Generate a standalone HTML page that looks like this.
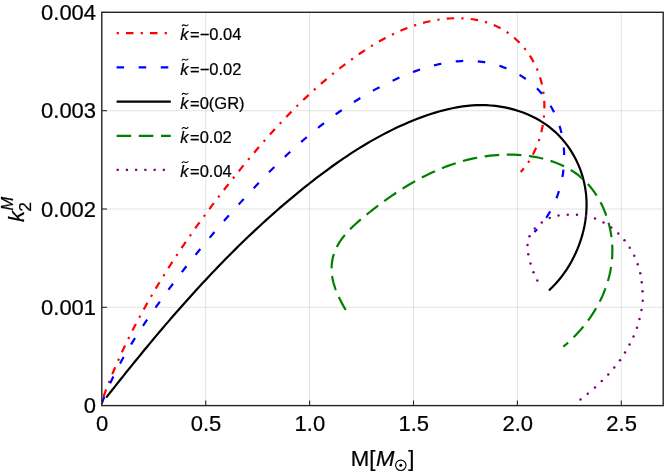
<!DOCTYPE html>
<html><head><meta charset="utf-8"><title>k2M vs M</title>
<style>html,body{margin:0;padding:0;background:#fff;}body{width:664px;height:474px;overflow:hidden;font-family:"Liberation Sans",sans-serif;}svg{display:block;will-change:transform;}text{font-family:"Liberation Sans",sans-serif;fill:#000;stroke:#000;stroke-width:0.22;}</style>
</head><body>
<svg width="664" height="474" viewBox="0 0 664 474">
<rect x="0" y="0" width="664" height="474" fill="#ffffff"/>
<g stroke="#000000" stroke-opacity="0.15" stroke-width="0.75" fill="none">
<line x1="205.70" y1="12.30" x2="205.70" y2="405.60"/>
<line x1="309.60" y1="12.30" x2="309.60" y2="405.60"/>
<line x1="413.50" y1="12.30" x2="413.50" y2="405.60"/>
<line x1="517.40" y1="12.30" x2="517.40" y2="405.60"/>
<line x1="621.30" y1="12.30" x2="621.30" y2="405.60"/>
<line x1="101.80" y1="307.30" x2="663.20" y2="307.30"/>
<line x1="101.80" y1="209.00" x2="663.20" y2="209.00"/>
<line x1="101.80" y1="110.70" x2="663.20" y2="110.70"/>
</g>
<clipPath id="pc"><rect x="101.80" y="12.30" width="561.40" height="393.30"/></clipPath>
<g clip-path="url(#pc)" fill="none" stroke-width="2.2" stroke-linecap="butt" stroke-linejoin="round">
<path d="M100.72 404.58 L102.29 400.12 L103.89 395.67 L105.54 391.24 L107.22 386.82 L108.95 382.41 L110.71 378.02 L112.51 373.64 L114.35 369.28 L116.22 364.92 L118.13 360.59 L120.07 356.26 L122.05 351.95 L124.06 347.65 L126.11 343.37 L128.19 339.10 L130.31 334.84 L132.45 330.60 L134.63 326.37 L136.84 322.15 L139.07 317.95 L141.34 313.76 L143.64 309.58 L145.97 305.42 L148.32 301.27 L150.70 297.13 L153.11 293.01 L155.55 288.90 L158.01 284.80 L160.50 280.72 L163.01 276.65 L165.55 272.60 L168.11 268.55 L170.69 264.53 L173.30 260.51 L175.93 256.51 L178.58 252.52 L181.25 248.55 L183.94 244.59 L186.66 240.64 L189.39 236.70 L192.14 232.78 L194.91 228.87 L197.69 224.98 L200.50 221.10 L203.32 217.23 L206.15 213.38 L209.01 209.54 L211.87 205.71 L214.76 201.90 L217.65 198.10 L220.56 194.31 L223.48 190.54 L226.42 186.78 L229.36 183.03 L232.32 179.29 L235.29 175.57 L238.26 171.87 L241.25 168.18 L244.26 164.50 L247.28 160.84 L250.31 157.19 L253.36 153.57 L256.42 149.96 L259.50 146.36 L262.60 142.79 L265.72 139.24 L268.86 135.70 L272.02 132.19 L275.21 128.70 L278.42 125.23 L281.65 121.78 L284.90 118.36 L288.19 114.96 L291.49 111.58 L294.83 108.23 L298.20 104.91 L301.59 101.61 L305.02 98.34 L308.47 95.09 L311.96 91.88 L315.49 88.69 L319.04 85.53 L322.64 82.40 L326.26 79.31 L329.93 76.24 L333.63 73.21 L337.38 70.21 L341.16 67.24 L344.98 64.31 L348.84 61.41 L352.75 58.56 L356.70 55.75 L360.68 53.00 L364.71 50.31 L368.78 47.69 L372.89 45.14 L377.04 42.67 L381.23 40.28 L385.47 37.98 L389.74 35.78 L394.06 33.68 L398.41 31.69 L402.81 29.80 L407.24 28.04 L411.72 26.41 L416.24 24.90 L420.79 23.53 L425.39 22.30 L430.03 21.22 L434.71 20.30 L439.43 19.53 L444.18 18.93 L448.96 18.51 L453.75 18.27 L458.54 18.22 L463.32 18.36 L468.07 18.72 L472.77 19.28 L477.42 20.08 L482.01 21.10 L486.52 22.36 L490.93 23.87 L495.24 25.63 L499.43 27.66 L503.48 29.94 L507.40 32.48 L511.17 35.25 L514.78 38.24 L518.23 41.44 L521.49 44.84 L524.58 48.42 L527.46 52.18 L530.14 56.10 L532.61 60.17 L534.85 64.38 L536.86 68.71 L538.63 73.15 L540.15 77.70 L541.44 82.32 L542.50 87.02 L543.31 91.78 L543.90 96.58 L544.26 101.42 L544.39 106.27 L544.30 111.13 L543.99 115.98 L543.45 120.80 L542.70 125.60 L541.74 130.34 L540.56 135.02 L539.17 139.62 L537.57 144.13 L535.77 148.54 L533.76 152.83 L531.55 157.00 L529.14 161.02 L526.54 164.88 L523.74 168.57 L520.74 172.08" stroke="#ff0000" stroke-dasharray="7.5 7.15 2.2 7.15" stroke-dashoffset="15.45"/>
<path d="M101.60 403.81 L103.29 399.38 L105.06 394.97 L106.90 390.60 L108.80 386.26 L110.77 381.95 L112.81 377.67 L114.90 373.42 L117.06 369.20 L119.27 365.00 L121.54 360.84 L123.85 356.69 L126.22 352.58 L128.63 348.48 L131.09 344.41 L133.59 340.37 L136.12 336.34 L138.70 332.34 L141.30 328.35 L143.94 324.39 L146.61 320.44 L149.30 316.51 L152.02 312.60 L154.76 308.70 L157.52 304.82 L160.30 300.95 L163.09 297.10 L165.90 293.26 L168.72 289.44 L171.57 285.63 L174.43 281.84 L177.30 278.06 L180.19 274.29 L183.10 270.53 L186.02 266.79 L188.96 263.07 L191.92 259.35 L194.89 255.65 L197.88 251.96 L200.88 248.29 L203.90 244.63 L206.93 240.98 L209.98 237.34 L213.04 233.71 L216.12 230.10 L219.21 226.50 L222.32 222.91 L225.45 219.33 L228.58 215.77 L231.73 212.21 L234.90 208.67 L238.08 205.14 L241.27 201.62 L244.48 198.11 L247.70 194.61 L250.94 191.13 L254.20 187.66 L257.47 184.21 L260.76 180.78 L264.07 177.36 L267.39 173.97 L270.74 170.59 L274.11 167.24 L277.50 163.91 L280.91 160.60 L284.34 157.32 L287.79 154.07 L291.27 150.85 L294.78 147.65 L298.31 144.49 L301.86 141.35 L305.45 138.25 L309.06 135.18 L312.69 132.15 L316.36 129.16 L320.06 126.20 L323.78 123.28 L327.54 120.40 L331.33 117.57 L335.15 114.77 L339.01 112.02 L342.89 109.31 L346.82 106.65 L350.77 104.04 L354.77 101.47 L358.80 98.96 L362.87 96.49 L366.97 94.08 L371.11 91.72 L375.30 89.41 L379.52 87.16 L383.78 84.97 L388.09 82.83 L392.44 80.75 L396.83 78.74 L401.26 76.78 L405.73 74.90 L410.24 73.10 L414.78 71.39 L419.35 69.77 L423.94 68.26 L428.56 66.87 L433.20 65.59 L437.86 64.45 L442.52 63.45 L447.20 62.60 L451.88 61.91 L456.56 61.38 L461.25 61.03 L465.93 60.86 L470.60 60.88 L475.26 61.10 L479.91 61.54 L484.53 62.19 L489.13 63.05 L493.69 64.13 L498.19 65.42 L502.64 66.91 L507.00 68.61 L511.28 70.51 L515.46 72.61 L519.54 74.91 L523.49 77.40 L527.31 80.09 L530.98 82.96 L534.50 86.02 L537.86 89.26 L541.03 92.69 L544.02 96.28 L546.83 100.04 L549.43 103.95 L551.84 108.00 L554.05 112.17 L556.04 116.47 L557.83 120.87 L559.39 125.37 L560.73 129.95 L561.85 134.61 L562.75 139.32 L563.43 144.09 L563.90 148.90 L564.15 153.73 L564.19 158.58 L564.02 163.43 L563.64 168.28 L563.05 173.10 L562.27 177.89 L561.28 182.64 L560.09 187.34 L558.70 191.97 L557.12 196.52 L555.34 200.98 L553.38 205.34 L551.22 209.58 L548.88 213.71 L546.35 217.69 L543.64 221.53 L540.75 225.21 L537.68 228.72 L534.43 232.04" stroke="#0000ff" stroke-dasharray="7.5 14.6" stroke-dashoffset="22.04"/>
<path d="M106.19 397.61 L109.08 393.93 L111.98 390.25 L114.88 386.57 L117.80 382.90 L120.71 379.23 L123.64 375.57 L126.57 371.91 L129.51 368.26 L132.46 364.61 L135.41 360.97 L138.38 357.33 L141.35 353.70 L144.33 350.07 L147.32 346.46 L150.32 342.85 L153.33 339.24 L156.34 335.65 L159.37 332.06 L162.41 328.48 L165.46 324.91 L168.51 321.35 L171.58 317.80 L174.66 314.25 L177.75 310.72 L180.85 307.19 L183.97 303.68 L187.09 300.18 L190.23 296.69 L193.38 293.21 L196.54 289.74 L199.71 286.28 L202.89 282.84 L206.09 279.41 L209.30 275.99 L212.53 272.58 L215.77 269.19 L219.02 265.81 L222.29 262.44 L225.57 259.09 L228.86 255.76 L232.17 252.43 L235.49 249.13 L238.83 245.84 L242.19 242.56 L245.56 239.30 L248.94 236.06 L252.34 232.84 L255.76 229.63 L259.19 226.44 L262.64 223.26 L266.11 220.11 L269.59 216.97 L273.09 213.85 L276.61 210.75 L280.14 207.67 L283.70 204.61 L287.27 201.56 L290.86 198.54 L294.46 195.54 L298.09 192.56 L301.73 189.60 L305.40 186.66 L309.08 183.74 L312.78 180.85 L316.50 177.97 L320.25 175.13 L324.01 172.31 L327.79 169.51 L331.60 166.75 L335.43 164.02 L339.28 161.32 L343.15 158.66 L347.05 156.04 L350.97 153.45 L354.92 150.91 L358.89 148.41 L362.89 145.95 L366.92 143.54 L370.97 141.17 L375.05 138.86 L379.15 136.59 L383.29 134.38 L387.45 132.22 L391.64 130.12 L395.86 128.08 L400.12 126.09 L404.40 124.17 L408.71 122.31 L413.06 120.51 L417.43 118.78 L421.84 117.12 L426.29 115.54 L430.76 114.03 L435.26 112.61 L439.79 111.29 L444.34 110.08 L448.92 108.98 L453.52 108.00 L458.13 107.15 L462.77 106.43 L467.42 105.87 L472.09 105.45 L476.77 105.20 L481.46 105.11 L486.16 105.21 L490.86 105.48 L495.56 105.94 L500.24 106.59 L504.90 107.41 L509.51 108.42 L514.08 109.60 L518.59 110.98 L523.03 112.53 L527.39 114.27 L531.66 116.19 L535.83 118.30 L539.89 120.58 L543.82 123.06 L547.63 125.71 L551.29 128.55 L554.80 131.57 L558.16 134.77 L561.34 138.14 L564.36 141.67 L567.21 145.34 L569.88 149.16 L572.37 153.10 L574.67 157.17 L576.78 161.34 L578.70 165.61 L580.42 169.97 L581.93 174.41 L583.24 178.91 L584.34 183.48 L585.22 188.09 L585.89 192.75 L586.33 197.43 L586.55 202.13 L586.55 206.85 L586.35 211.57 L585.94 216.28 L585.33 220.98 L584.52 225.66 L583.52 230.30 L582.34 234.91 L580.97 239.47 L579.43 243.97 L577.72 248.41 L575.84 252.77 L573.80 257.06 L571.60 261.25 L569.25 265.34 L566.75 269.33 L564.11 273.19 L561.33 276.94 L558.42 280.55 L555.37 284.02 L552.21 287.33 L548.92 290.49" stroke="#000000"/>
<path d="M346.20 310.67 L344.50 307.83 L342.82 304.89 L341.18 301.86 L339.61 298.74 L338.11 295.56 L336.72 292.31 L335.46 289.02 L334.33 285.68 L333.38 282.33 L332.60 278.95 L332.03 275.57 L331.69 272.20 L331.57 268.85 L331.67 265.52 L332.00 262.25 L332.54 259.02 L333.30 255.87 L334.26 252.80 L335.43 249.82 L336.80 246.93 L338.34 244.11 L340.06 241.37 L341.92 238.71 L343.93 236.11 L346.07 233.57 L348.32 231.09 L350.68 228.66 L353.12 226.28 L355.64 223.95 L358.23 221.65 L360.86 219.39 L363.54 217.16 L366.24 214.95 L368.95 212.76 L371.68 210.60 L374.43 208.46 L377.19 206.34 L379.97 204.25 L382.76 202.19 L385.56 200.16 L388.38 198.15 L391.22 196.17 L394.07 194.23 L396.93 192.32 L399.81 190.44 L402.71 188.60 L405.62 186.79 L408.55 185.02 L411.49 183.29 L414.44 181.59 L417.42 179.94 L420.41 178.33 L423.41 176.76 L426.43 175.24 L429.46 173.76 L432.51 172.32 L435.58 170.94 L438.66 169.60 L441.76 168.31 L444.88 167.07 L448.01 165.88 L451.15 164.75 L454.31 163.67 L457.49 162.64 L460.69 161.67 L463.90 160.76 L467.12 159.91 L470.36 159.11 L473.62 158.38 L476.90 157.71 L480.19 157.10 L483.50 156.55 L486.82 156.07 L490.16 155.66 L493.52 155.31 L496.90 155.03 L500.29 154.83 L503.69 154.69 L507.12 154.62 L510.56 154.63 L514.01 154.71 L517.46 154.87 L520.92 155.11 L524.38 155.43 L527.83 155.83 L531.26 156.31 L534.68 156.88 L538.08 157.54 L541.45 158.29 L544.79 159.13 L548.09 160.07 L551.35 161.10 L554.56 162.23 L557.73 163.45 L560.83 164.78 L563.88 166.21 L566.87 167.75 L569.78 169.39 L572.62 171.14 L575.38 173.00 L578.06 174.98 L580.65 177.06 L583.14 179.27 L585.54 181.59 L587.84 184.01 L590.05 186.54 L592.15 189.17 L594.16 191.88 L596.07 194.69 L597.87 197.57 L599.58 200.53 L601.18 203.56 L602.68 206.65 L604.07 209.80 L605.36 213.00 L606.54 216.25 L607.62 219.54 L608.59 222.86 L609.45 226.22 L610.20 229.60 L610.84 233.00 L611.37 236.41 L611.78 239.83 L612.09 243.25 L612.28 246.67 L612.36 250.08 L612.32 253.48 L612.17 256.87 L611.91 260.24 L611.55 263.59 L611.08 266.92 L610.51 270.24 L609.83 273.53 L609.06 276.80 L608.18 280.05 L607.22 283.26 L606.16 286.46 L605.00 289.62 L603.76 292.75 L602.43 295.85 L601.02 298.92 L599.52 301.95 L597.95 304.95 L596.29 307.91 L594.56 310.82 L592.75 313.70 L590.87 316.54 L588.91 319.33 L586.89 322.07 L584.80 324.77 L582.65 327.42 L580.44 330.02 L578.16 332.56 L575.82 335.06 L573.43 337.50 L570.98 339.88 L568.49 342.21 L565.94 344.47 L563.34 346.68" stroke="#008000" stroke-dasharray="14.6 7.6" stroke-dashoffset="21.29"/>
</g>
<g fill="#800080">
<circle cx="537.25" cy="280.50" r="1.25"/>
<circle cx="533.50" cy="272.25" r="1.25"/>
<circle cx="530.50" cy="263.50" r="1.25"/>
<circle cx="528.25" cy="254.25" r="1.25"/>
<circle cx="527.50" cy="245.00" r="1.25"/>
<circle cx="529.50" cy="236.25" r="1.25"/>
<circle cx="534.75" cy="228.50" r="1.25"/>
<circle cx="541.75" cy="222.50" r="1.25"/>
<circle cx="549.75" cy="218.00" r="1.25"/>
<circle cx="558.50" cy="215.50" r="1.25"/>
<circle cx="567.75" cy="214.75" r="1.25"/>
<circle cx="577.00" cy="214.75" r="1.25"/>
<circle cx="586.00" cy="216.00" r="1.25"/>
<circle cx="595.00" cy="218.50" r="1.25"/>
<circle cx="603.50" cy="222.50" r="1.25"/>
<circle cx="611.25" cy="227.50" r="1.25"/>
<circle cx="618.25" cy="233.50" r="1.25"/>
<circle cx="624.50" cy="240.25" r="1.25"/>
<circle cx="629.75" cy="247.75" r="1.25"/>
<circle cx="634.25" cy="255.75" r="1.25"/>
<circle cx="637.75" cy="264.25" r="1.25"/>
<circle cx="640.25" cy="273.25" r="1.25"/>
<circle cx="641.75" cy="282.25" r="1.25"/>
<circle cx="642.50" cy="291.25" r="1.25"/>
<circle cx="642.75" cy="300.75" r="1.25"/>
<circle cx="641.50" cy="310.00" r="1.25"/>
<circle cx="639.50" cy="319.00" r="1.25"/>
<circle cx="637.00" cy="327.75" r="1.25"/>
<circle cx="633.50" cy="336.50" r="1.25"/>
<circle cx="629.50" cy="344.50" r="1.25"/>
<circle cx="625.00" cy="352.50" r="1.25"/>
<circle cx="620.00" cy="360.25" r="1.25"/>
<circle cx="614.25" cy="367.50" r="1.25"/>
<circle cx="608.25" cy="374.50" r="1.25"/>
<circle cx="601.75" cy="381.00" r="1.25"/>
<circle cx="595.00" cy="387.50" r="1.25"/>
<circle cx="587.75" cy="393.75" r="1.25"/>
<circle cx="580.50" cy="399.50" r="1.25"/>
</g>
<g stroke="#242424" stroke-width="1.4" fill="none">
<rect x="101.80" y="12.30" width="561.40" height="393.30"/>
</g>
<g stroke="#2a2a2a" stroke-width="1.1" fill="none">
<line x1="205.70" y1="405.60" x2="205.70" y2="400.40"/>
<line x1="309.60" y1="405.60" x2="309.60" y2="400.40"/>
<line x1="413.50" y1="405.60" x2="413.50" y2="400.40"/>
<line x1="517.40" y1="405.60" x2="517.40" y2="400.40"/>
<line x1="621.30" y1="405.60" x2="621.30" y2="400.40"/>
<line x1="101.80" y1="307.30" x2="107.00" y2="307.30"/>
<line x1="101.80" y1="209.00" x2="107.00" y2="209.00"/>
<line x1="101.80" y1="110.70" x2="107.00" y2="110.70"/>
<line x1="101.80" y1="12.40" x2="107.00" y2="12.40"/>
</g>
<g font-size="22.0">
<text x="102.10" y="430.80" text-anchor="middle">0</text>
<text x="206.00" y="430.80" text-anchor="middle">0.5</text>
<text x="309.90" y="430.80" text-anchor="middle">1.0</text>
<text x="413.80" y="430.80" text-anchor="middle">1.5</text>
<text x="517.70" y="430.80" text-anchor="middle">2.0</text>
<text x="621.60" y="430.80" text-anchor="middle">2.5</text>
<text x="96.10" y="413.30" text-anchor="end">0</text>
<text x="96.10" y="315.00" text-anchor="end">0.001</text>
<text x="96.10" y="216.70" text-anchor="end">0.002</text>
<text x="96.10" y="118.40" text-anchor="end">0.003</text>
<text x="96.10" y="20.10" text-anchor="end">0.004</text>
</g>
<g font-size="22.2">
<text x="350.7" y="465.6">M[<tspan font-style="italic" dx="0.7">M</tspan></text>
<text x="408.2" y="465.6">]</text>
</g>
<circle cx="400.8" cy="465.3" r="5.2" fill="none" stroke="#000" stroke-width="1.15"/>
<circle cx="400.8" cy="465.3" r="1.5" fill="#000"/>
<g transform="translate(24 222) rotate(-90)">
<text x="0" y="0" font-size="22.2" font-style="italic">k</text>
<text x="10.2" y="6.8" font-size="17.4">2</text>
<text x="11.6" y="-10.8" font-size="16.4" font-style="italic">M</text>
</g>
<g fill="none" stroke-width="2.2">
<path d="M116.6 33.1 H170.8" stroke="#ff0000" stroke-dasharray="7.5 7.15 2.2 7.15" stroke-dashoffset="14.6"/>
<path d="M116.6 67.4 H170.8" stroke="#0000ff" stroke-dasharray="7.5 14.6" stroke-dashoffset="0"/>
<path d="M116.6 101.6 H170.8" stroke="#000000"/>
<path d="M116.6 135.8 H170.8" stroke="#008000" stroke-dasharray="14.6 7.6" stroke-dashoffset="0"/>
<path d="M116.6 169.9 H170.8" stroke="#800080" stroke-dasharray="2.2 7.03" stroke-dashoffset="0"/>
</g>
<text x="180.2" y="40.20" font-size="16.5"><tspan font-style="italic">k</tspan><tspan dx="1.6">=−0.04</tspan></text>
<path d="M182.20 25.90 c0.6 -1.2 1.8 -1.3 2.8 -0.6 c1 0.7 2.2 0.6 3 -0.6" fill="none" stroke="#000" stroke-width="1.05" stroke-linecap="round"/>
<text x="180.2" y="74.50" font-size="16.5"><tspan font-style="italic">k</tspan><tspan dx="1.6">=−0.02</tspan></text>
<path d="M182.20 60.20 c0.6 -1.2 1.8 -1.3 2.8 -0.6 c1 0.7 2.2 0.6 3 -0.6" fill="none" stroke="#000" stroke-width="1.05" stroke-linecap="round"/>
<text x="180.2" y="108.70" font-size="16.5"><tspan font-style="italic">k</tspan><tspan dx="1.6">=0(GR)</tspan></text>
<path d="M182.20 94.40 c0.6 -1.2 1.8 -1.3 2.8 -0.6 c1 0.7 2.2 0.6 3 -0.6" fill="none" stroke="#000" stroke-width="1.05" stroke-linecap="round"/>
<text x="180.2" y="142.90" font-size="16.5"><tspan font-style="italic">k</tspan><tspan dx="1.6">=0.02</tspan></text>
<path d="M182.20 128.60 c0.6 -1.2 1.8 -1.3 2.8 -0.6 c1 0.7 2.2 0.6 3 -0.6" fill="none" stroke="#000" stroke-width="1.05" stroke-linecap="round"/>
<text x="180.2" y="177.00" font-size="16.5"><tspan font-style="italic">k</tspan><tspan dx="1.6">=0.04</tspan></text>
<path d="M182.20 162.70 c0.6 -1.2 1.8 -1.3 2.8 -0.6 c1 0.7 2.2 0.6 3 -0.6" fill="none" stroke="#000" stroke-width="1.05" stroke-linecap="round"/>
</svg>
</body></html>
